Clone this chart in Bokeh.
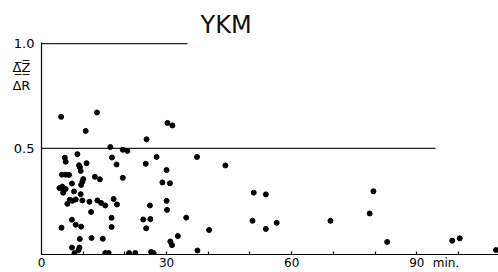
from bokeh.plotting import figure
from bokeh.models import Range1d, FixedTicker, LinearAxis
from bokeh.embed import file_html
from bokeh.resources import INLINE

# elapsed time (min) and ratio mean(dZ)/dR
minutes = [4.7, 13.3, 10.6, 30.2, 31.4, 25.2, 16.5, 19.5, 20.6, 5.6,
           5.8, 8.6, 16.9, 27.6, 37.3, 44.1, 10.8, 9.0, 9.2, 18.0,
           25.0, 30.0, 4.9, 5.8, 6.6, 9.4, 10.0, 12.8, 14.0, 19.5,
           29.0, 30.8, 7.3, 9.8, 9.5, 5.0, 5.3, 5.2, 5.8, 4.3,
           7.8, 9.4, 6.8, 6.2, 7.4, 8.2, 9.8, 11.5, 13.4, 14.3,
           17.3, 15.3, 18.1, 26.0, 30.0, 30.1, 11.9, 4.8, 7.3, 8.2,
           9.5, 16.8, 16.8, 24.4, 26.1, 25.1, 34.7, 40.2, 9.2, 12.0,
           14.7, 30.9, 31.3, 32.7, 7.3, 9.1, 8.9, 7.9, 15.3, 16.1,
           21.0, 22.5, 26.3, 26.9, 37.4, 50.9, 53.8, 50.6, 53.8, 56.4,
           69.3, 79.6, 78.7, 82.9, 98.5, 100.3, 109.0]
ratio = [0.650, 0.671, 0.583, 0.621, 0.609, 0.543, 0.506, 0.493, 0.487, 0.455,
         0.436, 0.472, 0.456, 0.459, 0.459, 0.418, 0.429, 0.419, 0.410, 0.423,
         0.426, 0.396, 0.374, 0.374, 0.373, 0.392, 0.353, 0.364, 0.352, 0.359,
         0.337, 0.333, 0.332, 0.340, 0.325, 0.317, 0.301, 0.288, 0.306, 0.310,
         0.294, 0.281, 0.254, 0.235, 0.249, 0.256, 0.251, 0.245, 0.251, 0.239,
         0.258, 0.227, 0.232, 0.227, 0.249, 0.206, 0.196, 0.121, 0.159, 0.135,
         0.126, 0.168, 0.124, 0.160, 0.162, 0.118, 0.169, 0.110, 0.067, 0.072,
         0.068, 0.055, 0.038, 0.081, 0.026, 0.026, 0.014, 0.000, 0.000, 0.000,
         0.000, 0.000, 0.005, 0.000, 0.012, 0.288, 0.280, 0.154, 0.115, 0.144,
         0.154, 0.295, 0.189, 0.053, 0.059, 0.070, 0.014]

ref_levels = [1.0, 0.5]
ref_starts = [0, 0]
ref_ends = [35, 94.5]

x_ticks = list(range(0, 111, 10))
x_label_ticks = [0, 30, 60, 90, 97]
x_label_text = {97: "min."}
y_ticks = [0.5, 0.841, 1.0]
y_label_text = {0.5: "0.5", 0.841: "Δ\u0332\u0305Z\u0332\u0305\u00a0\nΔR\u00a0", 1.0: "1.0"}

FONT = "DejaVu Sans"

p = figure(width=498, height=272, output_backend="svg", toolbar_location=None,
           x_range=Range1d(0, 109.6), y_range=Range1d(-0.007, 1.005),
           min_border_left=41, min_border_right=0, min_border_top=42,
           min_border_bottom=0)
p.outline_line_color = None
p.grid.visible = False
p.background_fill_color = "white"
p.border_fill_color = "white"

# title
p.title.text = "YKM"
p.title.align = "left"
p.title.offset = 159
p.title.standoff = 7
p.title.text_font = FONT
p.title.text_font_size = "24px"
p.title.text_font_style = "normal"
p.title.text_color = "#111111"

# reference lines
p.segment(x0=ref_starts, y0=ref_levels, x1=ref_ends, y1=ref_levels,
          line_color="#222222", line_width=1.3)

# points
p.scatter(minutes, ratio, size=5, color="black", line_color="black")

# x axis: line and inward ticks
xa = p.xaxis[0]
xa.ticker = FixedTicker(ticks=x_ticks)
xa.major_label_overrides = {t: "" for t in x_ticks}
xa.major_label_text_font_size = "0px"
xa.major_label_standoff = 0
xa.major_tick_in = 3
xa.major_tick_out = 0
xa.minor_tick_in = 0
xa.minor_tick_out = 0
xa.axis_line_width = 1.2
xa.axis_line_color = "black"
xa.major_tick_line_color = "black"
xa.major_tick_line_width = 1.2

# x axis labels row (0, 30, 60, 90 min.)
xl = LinearAxis(ticker=FixedTicker(ticks=x_label_ticks),
                major_label_overrides=x_label_text,
                axis_line_color=None, major_tick_line_color=None,
                minor_tick_line_color=None, major_tick_in=0, major_tick_out=0,
                major_label_standoff=1, major_label_text_font=FONT,
                major_label_text_font_size="12px",
                major_label_text_color="black")
p.add_layout(xl, "below")

# y axis
ya = p.yaxis[0]
ya.ticker = FixedTicker(ticks=y_ticks)
ya.major_label_overrides = y_label_text
ya.major_tick_in = 0
ya.major_tick_out = 0
ya.minor_tick_in = 0
ya.minor_tick_out = 0
ya.axis_line_width = 1.2
ya.axis_line_color = "black"
ya.major_label_standoff = 7
ya.major_label_text_font = FONT
ya.major_label_text_font_size = "13px"
ya.major_label_text_color = "black"

open("out.html", "w").write(file_html(p, INLINE))
